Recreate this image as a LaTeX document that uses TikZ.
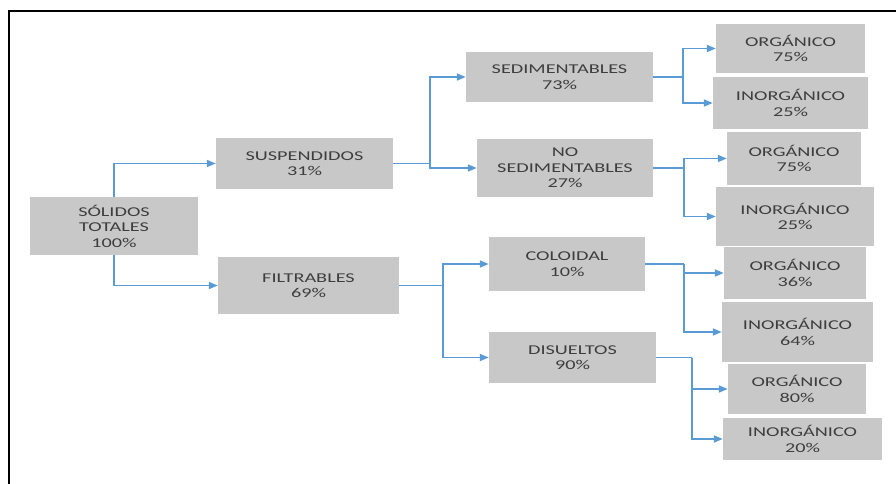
\documentclass[tikz,border=0pt]{standalone}
\usepackage{fontspec}
\setmainfont{Carlito}[FakeStretch=1.5]
\usepackage{tikz}
\usetikzlibrary{arrows.meta, positioning, calc}
\usepackage{xcolor}
\definecolor{boxgray}{RGB}{200,200,200}
\definecolor{linkblue}{RGB}{91,155,213}
\definecolor{txtgray}{RGB}{62,62,62}

\begin{document}
\begin{tikzpicture}[x=1pt, y=-1pt,
  box/.style={fill=boxgray, text=txtgray, align=center, inner sep=0pt,
    font=\fontsize{13.5}{15.5}\selectfont},
  link/.style={linkblue, line width=1.8pt, -{Triangle[length=9pt,width=7pt]}},
  bare/.style={linkblue, line width=1.8pt}]
  \useasboundingbox (0,0) rectangle (896,484);
  \draw[line width=1.8pt] (9,484) -- (9,11) -- (896,11);
  % first level
  \node[box, minimum width=168pt, minimum height=58pt] (tot) at (114,226) {SÓLIDOS\\TOTALES\\100\%};
  \node[box, minimum width=177pt, minimum height=51pt] (susp) at (304.5,163.5) {SUSPENDIDOS\\31\%};
  \node[box, minimum width=181pt, minimum height=57pt] (filt) at (308.5,285.5) {FILTRABLES\\69\%};
  % second level
  \node[box, minimum width=187pt, minimum height=50pt] (sed) at (559.5,77) {SEDIMENTABLES\\73\%};
  \node[box, minimum width=176pt, minimum height=58pt] (nosed) at (565,168) {NO\\SEDIMENTABLES\\27\%};
  \node[box, minimum width=156pt, minimum height=54pt] (col) at (567,264) {COLOIDAL\\10\%};
  \node[box, minimum width=167pt, minimum height=51pt] (dis) at (572.5,357.5) {DISUELTOS\\90\%};
  % third level
  \node[box, minimum width=149pt, minimum height=49pt] (org1) at (790.5,48.5) {ORGÁNICO\\75\%};
  \node[box, minimum width=155pt, minimum height=52pt] (inorg1) at (790.5,103) {INORGÁNICO\\25\%};
  \node[box, minimum width=134pt, minimum height=53pt] (org2) at (794,158.5) {ORGÁNICO\\75\%};
  \node[box, minimum width=158pt, minimum height=59pt] (inorg2) at (795,216.5) {INORGÁNICO\\25\%};
  \node[box, minimum width=142pt, minimum height=52pt] (org3) at (795,273) {ORGÁNICO\\36\%};
  \node[box, minimum width=151pt, minimum height=60pt] (inorg3) at (797.5,332) {INORGÁNICO\\64\%};
  \node[box, minimum width=138pt, minimum height=50pt] (org4) at (797,389) {ORGÁNICO\\80\%};
  \node[box, minimum width=159pt, minimum height=42pt] (inorg4) at (802.5,439) {INORGÁNICO\\20\%};
  % junctions
  \coordinate (jsusp) at (430,163.5);
  \coordinate (jfilt) at (443,285.5);
  \coordinate (jsed) at (683,77);
  \coordinate (jnosed) at (684,168);
  \coordinate (jcol) at (684,264);
  \coordinate (jdis) at (692,357.5);
  % connectors
  \draw[link] (tot.north) |- (susp.west);
  \draw[link] (tot.south) |- (filt.west);
  \draw[bare] (susp.east) -- (jsusp);
  \draw[link] (jsusp) |- (sed.west);
  \draw[link] (jsusp) |- (nosed.west);
  \draw[bare] (filt.east) -- (jfilt);
  \draw[link] (jfilt) |- (col.west);
  \draw[link] (jfilt) |- (dis.west);
  \draw[bare] (sed.east) -- (jsed);
  \draw[link] (jsed) |- (org1.west);
  \draw[link] (jsed) |- (inorg1.west);
  \draw[bare] (nosed.east) -- (jnosed);
  \draw[link] (jnosed) |- (org2.west);
  \draw[link] (jnosed) |- (inorg2.west);
  \draw[bare] (col.east) -- (jcol);
  \draw[link] (jcol) |- (org3.west);
  \draw[link] (jcol) |- (inorg3.west);
  \draw[bare] (dis.east) -- (jdis);
  \draw[link] (jdis) |- (org4.west);
  \draw[link] (jdis) |- (inorg4.west);
\end{tikzpicture}
\end{document}
